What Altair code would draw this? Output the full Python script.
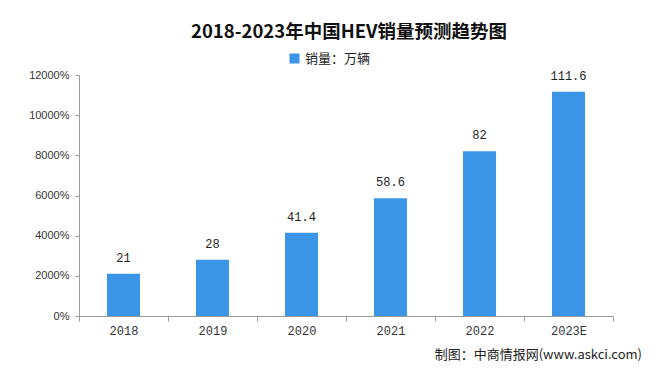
import altair as alt
import pandas as pd

years = ["2018", "2019", "2020", "2021", "2022", "2023E"]
sales = [21, 28, 41.4, 58.6, 82, 111.6]
labels = ["21", "28", "41.4", "58.6", "82", "111.6"]
series_name = "销量：万辆"

df = pd.DataFrame({"year": years, "sales": sales, "label": labels, "series": [series_name] * len(years)})

BLUE = "#3a95e6"
CJK = "Noto Sans CJK SC"
MONO = "Liberation Mono"

x_enc = alt.X("year:N", sort=years, title=None,
              scale=alt.Scale(paddingInner=0, paddingOuter=0),
              axis=alt.Axis(labelAngle=0, labelFont=MONO, labelFontSize=12,
                            labelColor="#333333", domainColor="#9a9a9a", tickColor="#9a9a9a",
                            tickSize=5, tickBand="extent", labelPadding=4))

y_enc = alt.Y("sales:Q", title=None,
              scale=alt.Scale(domain=[0, 120], nice=False),
              axis=alt.Axis(values=[0, 20, 40, 60, 80, 100, 120], format=".0%",
                            labelFont="Liberation Sans", labelFontSize=11, labelColor="#333333",
                            domainColor="#9a9a9a", tickColor="#9a9a9a", tickSize=4,
                            grid=False, labelPadding=6))

bars = alt.Chart(df).mark_bar(size=33).encode(
    x=x_enc,
    y=y_enc,
    color=alt.Color("series:N", scale=alt.Scale(range=[BLUE]),
                    legend=alt.Legend(title=None, orient="none", legendX=209, legendY=-23,
                                      direction="horizontal", symbolType="square", symbolSize=100,
                                      labelFont=CJK, labelFontSize=13, labelColor="#222222")),
)

text = alt.Chart(df).mark_text(baseline="bottom", dy=-9, font=MONO,
                               fontSize=12, color="#222222").encode(
    x=alt.X("year:N", sort=years),
    y="sales:Q",
    text="label:N",
)

footer = alt.Chart(pd.DataFrame({"t": ["制图：中商情报网(www.askci.com)"]})).mark_text(
    align="right", baseline="middle", font=CJK, fontSize=13, color="#222222"
).encode(x=alt.value(563), y=alt.value(280), text="t:N")

chart = alt.layer(bars, text, footer).properties(
    width=534, height=241,
    autosize=alt.AutoSizeParams(type="none"),
    padding={"left": 71, "top": 67, "right": 39, "bottom": 50},
    title=alt.TitleParams("2018-2023年中国HEV销量预测趋势图", font=CJK, fontSize=18.5,
                          fontWeight="bold", color="#111111", anchor="middle", dx=3, offset=11),
).configure_view(stroke=None)

chart.save("out.html", embed_options={"renderer": "svg", "actions": False})
